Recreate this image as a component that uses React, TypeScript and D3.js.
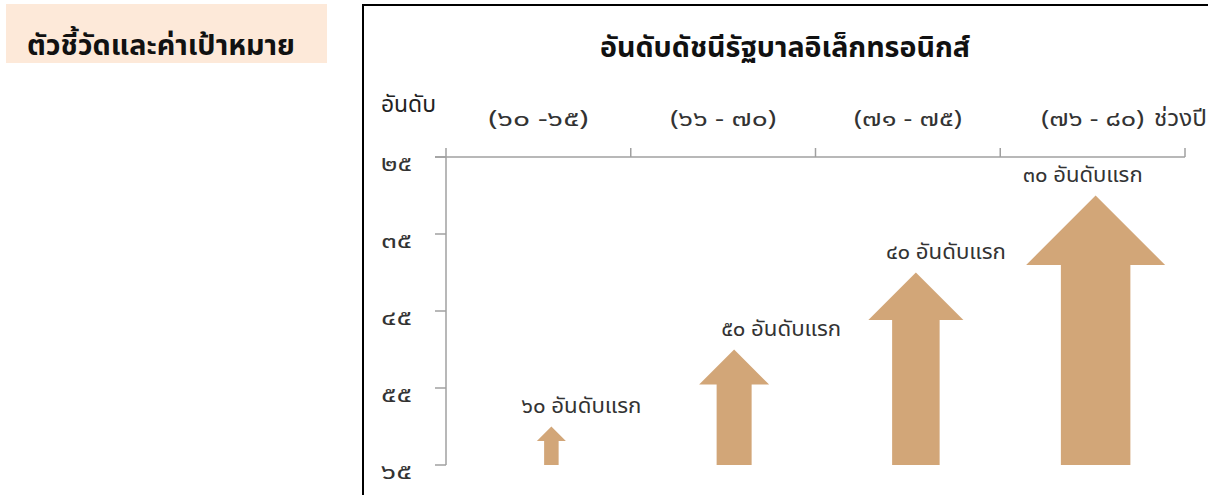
import React from "react";
import * as d3 from "d3";

const categories = ["(๖๐ -๖๕)", "(๖๖ - ๗๐)", "(๗๑ - ๗๕)", "(๗๖ - ๘๐)"];
const rankTargets = [60, 50, 40, 30];
const arrowLabels = ["๖๐ อันดับแรก", "๕๐ อันดับแรก", "๔๐ อันดับแรก", "๓๐ อันดับแรก"];
const yTicks = [25, 35, 45, 55, 65];
const yTickLabels = ["๒๕", "๓๕", "๔๕", "๕๕", "๖๕"];
const chartTitle = "อันดับดัชนีรัฐบาลอิเล็กทรอนิกส์";
const yAxisTitle = "อันดับ";
const xAxisTitle = "ช่วงปี";
const sideHeading = "ตัวชี้วัดและค่าเป้าหมาย";

const W = 1208;
const H = 495;
const FONT = "'Noto Sans Thai', 'Leelawadee UI', Tahoma, 'Noto Sans', sans-serif";
const ARROW = "#D2A678";
const AXIS = "#A0A0A0";

// layout-only tweaks (not data)
const arrowHeadW = [29, 70, 95, 139];
const arrowDx = [13, 11, 8, 3];
const labelDx = [30, 47, 30, -13];
const catWidths = [100, 106, 108, 103];

export default function App() {
  const x = d3.scaleBand<string>().domain(categories).range([446, 1185]).padding(0);
  const y = d3.scaleLinear().domain([25, 65]).range([157, 465]);
  const base = y(65);

  const arrowPath = (i: number) => {
    const cx = (x(categories[i]) as number) + x.bandwidth() / 2 + arrowDx[i];
    const tip = y(rankTargets[i]);
    const hw = arrowHeadW[i] / 2;
    const sw = hw / 2;
    const hh = hw;
    const p = d3.path();
    p.moveTo(cx, tip);
    p.lineTo(cx + hw, tip + hh);
    p.lineTo(cx + sw, tip + hh);
    p.lineTo(cx + sw, base);
    p.lineTo(cx - sw, base);
    p.lineTo(cx - sw, tip + hh);
    p.lineTo(cx - hw, tip + hh);
    p.closePath();
    return p.toString();
  };

  return (
    <svg
      width={W}
      height={H}
      style={{ position: "absolute", left: 0, top: 0, background: "#fff" }}
      fontFamily={FONT}
    >
      <rect x={6} y={4} width={321} height={59} fill="#FDE9D9" />
      <text x={27} y={55} fontSize={28} fontWeight="bold" fill="#111" textLength={268} lengthAdjust="spacingAndGlyphs">
        {sideHeading}
      </text>

      <rect x={363} y={5} width={900} height={560} fill="none" stroke="#000" strokeWidth={2} />

      <text x={785} y={57} fontSize={28} fontWeight="bold" textAnchor="middle" fill="#111" textLength={370} lengthAdjust="spacingAndGlyphs">
        {chartTitle}
      </text>

      <text x={381} y={112} fontSize={23} fill="#222" textLength={55} lengthAdjust="spacingAndGlyphs">
        {yAxisTitle}
      </text>

      {categories.map((c, i) => (
        <text
          key={c}
          x={(x(c) as number) + x.bandwidth() / 2}
          y={126}
          fontSize={22}
          textAnchor="middle"
          fill="#333"
          textLength={catWidths[i]}
          lengthAdjust="spacingAndGlyphs"
        >
          {c}
        </text>
      ))}
      <text x={1154} y={126} fontSize={23} fill="#333" textLength={53} lengthAdjust="spacingAndGlyphs">
        {xAxisTitle}
      </text>

      {/* top axis line and ticks */}
      <line x1={435} x2={1185} y1={y(25)} y2={y(25)} stroke={AXIS} strokeWidth={1.5} />
      {categories.map((c) => (
        <line
          key={"t" + c}
          x1={(x(c) as number) + x.bandwidth()}
          x2={(x(c) as number) + x.bandwidth()}
          y1={y(25)}
          y2={y(25) - 9}
          stroke={AXIS}
          strokeWidth={1.5}
        />
      ))}
      {/* y axis */}
      <line x1={446} x2={446} y1={y(25) - 9} y2={y(65)} stroke={AXIS} strokeWidth={1.5} />
      {yTicks.map((t, i) => (
        <g key={t}>
          <line x1={435} x2={446} y1={y(t)} y2={y(t)} stroke={AXIS} strokeWidth={1.5} />
          <text x={381} y={y(t) + 14} fontSize={22} fill="#333" textLength={31} lengthAdjust="spacingAndGlyphs">
            {yTickLabels[i]}
          </text>
        </g>
      ))}

      {rankTargets.map((r, i) => (
        <g key={r}>
          <path d={arrowPath(i)} fill={ARROW} />
          <text
            x={(x(categories[i]) as number) + x.bandwidth() / 2 + arrowDx[i] + labelDx[i]}
            y={y(r) - 14}
            fontSize={21}
            textAnchor="middle"
            fill="#333"
            textLength={120}
            lengthAdjust="spacingAndGlyphs"
          >
            {arrowLabels[i]}
          </text>
        </g>
      ))}
    </svg>
  );
}
